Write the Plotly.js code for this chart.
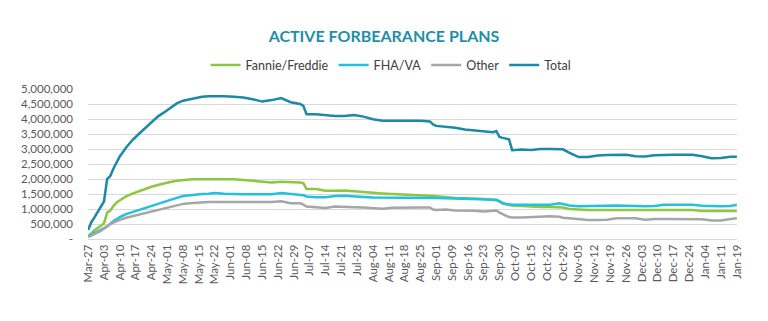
<!DOCTYPE html>
<html>
<head>
<meta charset="utf-8">
<script src="https://cdn.plot.ly/plotly-3.0.1.min.js"></script>
<style>html,body{margin:0;padding:0;background:#fff;}#chart{width:768px;height:321px;}</style>
</head>
<body>
<div id="chart"></div>
<script>
// Business-day index of each sample (0 = Mar-27, 205 = Jan-19)
const dayIdx = [0,1,2,3,4,5,6,7,8,9,10,12,14,16,18,20,22,24,26,28,30,32,34,36,38,40,43,46,49,52,55,58,61,64,67,68,69,72,75,78,81,84,87,90,93,96,99,102,105,108,109,110,113,116,119,122,125,128,129,130,131,132,133,134,137,140,143,146,149,150,152,155,158,161,164,167,170,173,176,179,182,185,188,191,194,197,200,203,205];

// Values in thousands of plans
const fannieFreddie = [90,200,290,370,440,520,880,950,1100,1220,1290,1420,1510,1590,1670,1740,1800,1860,1900,1940,1970,1980,1990,1990,2000,2000,2000,1990,1970,1940,1920,1880,1910,1900,1880,1860,1670,1670,1610,1610,1620,1590,1560,1540,1520,1500,1490,1480,1460,1440,1430,1420,1390,1370,1360,1350,1330,1300,1290,1250,1180,1160,1130,1120,1100,1080,1070,1070,1060,1050,1000,970,965,965,965,965,965,965,965,965,965,965,965,965,930,930,930,930,930];
const fhaVa = [90,140,190,240,300,360,420,520,600,660,730,830,900,970,1020,1100,1180,1250,1300,1370,1430,1460,1490,1500,1510,1530,1510,1490,1490,1490,1490,1490,1530,1500,1470,1460,1420,1390,1390,1430,1440,1410,1400,1380,1380,1390,1390,1390,1380,1380,1370,1370,1360,1350,1340,1330,1320,1320,1310,1260,1200,1170,1150,1140,1140,1140,1140,1140,1190,1160,1120,1090,1100,1110,1110,1120,1110,1090,1090,1100,1140,1140,1140,1140,1110,1090,1090,1100,1140];
const other = [60,110,160,210,270,340,430,500,550,600,640,710,760,820,870,910,970,1030,1080,1130,1170,1190,1210,1230,1230,1230,1230,1250,1230,1230,1240,1230,1260,1190,1190,1150,1080,1060,1030,1080,1060,1060,1050,1030,1010,1040,1050,1060,1050,1050,980,970,980,950,950,940,920,940,950,880,840,780,730,720,720,730,760,760,740,710,690,650,630,630,640,690,690,690,640,670,670,670,670,670,660,620,620,670,690];
const total = [300,560,720,900,1050,1250,2000,2100,2350,2550,2750,3050,3300,3500,3700,3900,4080,4220,4370,4520,4610,4660,4700,4740,4760,4770,4760,4740,4720,4660,4580,4630,4700,4560,4500,4440,4160,4160,4120,4100,4100,4130,4080,3990,3940,3940,3960,3940,3940,3920,3820,3770,3740,3710,3650,3620,3580,3560,3600,3400,3370,3340,3320,2960,2980,2970,3000,3000,3000,2990,2880,2730,2730,2780,2800,2810,2810,2760,2750,2790,2810,2810,2810,2810,2760,2690,2700,2740,2740];

const tickDays = [0,5,10,15,20,25,30,35,40,45,50,55,60,65,70,75,80,85,90,95,100,105,110,115,120,125,130,135,140,145,150,155,160,165,170,175,180,185,190,195,200,205];
const tickLabels = ["Mar-27","Apr-03","Apr-10","Apr-17","Apr-24","May-01","May-08","May-15","May-22","Jun-01","Jun-08","Jun-15","Jun-22","Jun-29","Jul-07","Jul-14","Jul-21","Jul-28","Aug-04","Aug-11","Aug-18","Aug-25","Sep-01","Sep-09","Sep-16","Sep-23","Sep-30","Oct-07","Oct-15","Oct-22","Oct-29","Nov-05","Nov-12","Nov-19","Nov-26","Dec-03","Dec-10","Dec-17","Dec-24","Jan-04","Jan-11","Jan-19"];
const yTickVals = [0,500000,1000000,1500000,2000000,2500000,3000000,3500000,4000000,4500000,5000000];
const yTickText = ["-","500,000","1,000,000","1,500,000","2,000,000","2,500,000","3,000,000","3,500,000","4,000,000","4,500,000","5,000,000"];

const seriesNames = ["Fannie/Freddie","FHA/VA","Other","Total"];
const seriesColors = ["#8dc63f","#22c1e0","#a6a6a6","#1a8aa6"];
const seriesData = [fannieFreddie, fhaVa, other, total];

const FONT = 'Lato, "Open Sans", Arial, sans-serif';

const traces = seriesData.map((vals, i) => ({
  type: 'scatter', mode: 'lines', name: seriesNames[i],
  x: dayIdx, y: vals.map(v => v * 1000),
  line: {color: seriesColors[i], width: 2.5},
  hoverinfo: 'skip'
}));

const layout = {
  width: 768, height: 321,
  margin: {l: 88, r: 31, t: 88.7, b: 81.7},
  paper_bgcolor: '#ffffff', plot_bgcolor: '#ffffff',
  font: {family: FONT, color: '#595959'},
  title: {text: '<b>ACTIVE FORBEARANCE PLANS</b>', font: {family: FONT, size: 16, color: '#1f8fa8'},
          x: 0.5, xanchor: 'center', y: 0.888, yanchor: 'middle'},
  showlegend: true,
  legend: {orientation: 'h', x: 0.467, xanchor: 'center', y: 1.157, yanchor: 'middle',
           font: {family: FONT, size: 12.5, color: '#404040'}, bgcolor: 'rgba(0,0,0,0)'},
  xaxis: {type: 'linear', range: [-0.05, 205.05], tickmode: 'array', tickvals: tickDays, ticktext: tickLabels,
          tickangle: -90, tickfont: {family: FONT, size: 11.5, color: '#595959'},
          showgrid: false, zeroline: false, showline: true, linecolor: '#d9d9d9', linewidth: 1, ticks: ''},
  yaxis: {range: [0, 5000000], tickmode: 'array', tickvals: yTickVals, ticktext: yTickText,
          tickfont: {family: FONT, size: 11.5, color: '#595959'}, showgrid: true, gridcolor: '#d9d9d9', gridwidth: 1,
          zeroline: false, showline: false, ticks: '', ticklabelstandoff: 14}
};

Plotly.newPlot('chart', traces, layout, {displayModeBar: false, staticPlot: true});
</script>
</body>
</html>
